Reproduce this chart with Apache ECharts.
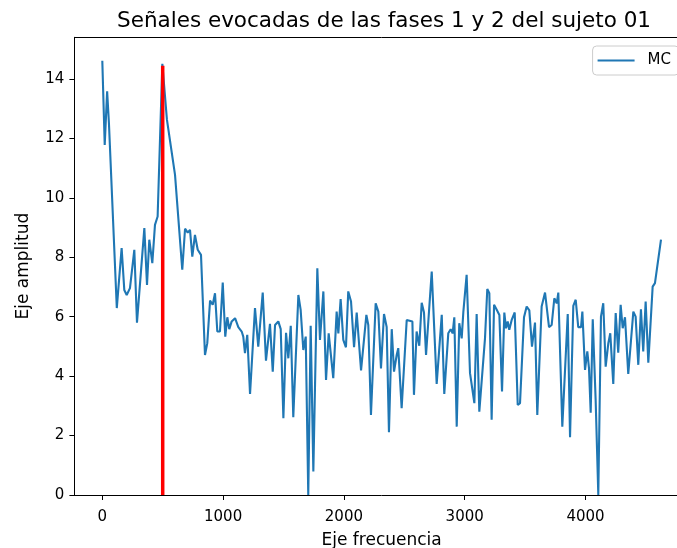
<!DOCTYPE html>
<html><head><meta charset="utf-8">
<script src="https://cdn.jsdelivr.net/npm/echarts@6/dist/echarts.min.js"></script>
<style>html,body{margin:0;padding:0;overflow:hidden;background:#fff;width:677px;height:548px}#c{width:763px;height:548px}</style>
</head><body><div id="c"></div>
<script>
const titleText = 'Señales evocadas de las fases 1 y 2 del sujeto 01';
const xName = 'Eje frecuencia';
const yName = 'Eje amplitud';
const seriesName = 'MC';
const xTicks = [0, 1000, 2000, 3000, 4000];
const yTicks = [0, 2, 4, 6, 8, 10, 12, 14];
const markerX = 500;
const markerTop = 14.44;
const freqs = [0,20,40,55,120,160,182,202,229,265,287,348,370,389,414,436,458,497,535,602,662,685,707,726,745,767,790,817,850,869,892,914,933,
952,974,997,1018,1035,1051,1071,1099,1126,1154,1167,1181,1200,1223,1264,1291,1328,1355,1388,1411,1430,1457,1477,1499,1521,1540,1560,1581,1623,1642,1664,1684,1705,1725,1747,1780,1802,1830,1852,1874,
1912,1940,1954,1973,1995,2017,2036,2059,2084,2106,2142,2186,2202,2224,2263,2285,2307,2332,2354,2373,2396,2415,2437,2450,2478,2520,2567,2580,2602,2624,2644,2663,2680,2727,2768,2810,2831,
2864,2884,2900,2914,2934,2955,2975,2989,3016,3044,3080,3099,3121,3168,3187,3204,3223,3243,3265,3287,3309,3328,3342,3356,3369,3389,3414,3439,3458,3491,3513,3535,3557,3582,3601,3637,3665,3698,3720,3742,3762,3775,
3808,3853,3872,3899,3919,3940,3963,3974,3996,4015,4029,4043,4060,4084,4106,4128,4147,4167,4189,4205,4230,4250,4271,4291,4308,4327,4354,4396,4415,4437,4459,4478,4498,4520,4556,4575,4625];
const amps = [14.61,11.78,13.58,12.5,6.29,8.31,6.9,6.73,6.96,8.25,5.8,8.98,7.07,8.59,7.8,9.09,9.37,14.51,12.63,10.77,7.58,8.96,8.83,8.92,8.02,8.75,8.25,8.08,4.71,5.11,6.54,6.4,6.79,
5.5,5.5,7.15,5.33,5.98,5.58,5.84,5.95,5.65,5.5,5.33,4.77,5.39,3.4,6.29,4.99,6.81,4.52,5.76,4.15,5.72,5.84,5.58,2.58,5.46,4.6,5.69,2.62,6.73,6.23,4.88,5.33,0,5.69,0.79,7.63,5.22,6.85,3.87,5.44,
3.93,6.17,5.44,6.59,5.22,4.97,6.85,6.51,4.97,6.14,4.19,6.06,5.72,2.69,6.45,6.17,4.26,6.09,5.65,2.11,5.58,4.15,4.71,4.94,2.92,5.89,5.84,3.37,5.5,5.02,6.47,6.14,4.71,7.52,3.74,6.06,3.4,
5.44,5.58,5.44,5.98,2.3,5.78,5.27,6.17,7.41,4.1,3.09,6.09,2.8,5.27,6.93,6.79,2.53,6.4,6.23,6.06,3.48,6.14,5.61,5.84,5.56,5.89,6.14,3.03,3.09,5.98,6.34,6.21,4.99,5.8,2.69,6.34,6.81,5.65,5.72,6.62,6.45,6.81,
2.3,6.09,1.94,6.36,6.57,5.65,5.65,6.17,4.21,4.83,4.26,2.77,5.91,3.2,0,6.0,6.45,4.32,5.11,5.44,3.74,6.12,4.79,6.4,5.61,5.98,4.07,6.17,6.0,4.38,6.25,4.83,6.51,4.45,7.01,7.13,8.59];

const FONT = 'DejaVu Sans';
const chart = echarts.init(document.getElementById('c'), null, {renderer: 'canvas'});
const axisCommon = {
  axisLine: {show: true, onZero: false, lineStyle: {color: '#000', width: 1}},
  splitLine: {show: false}
};
chart.setOption({
  animation: false,
  backgroundColor: '#fff',
  title: {text: titleText, left: 112, top: 5,
    textStyle: {fontFamily: FONT, fontSize: 21.5, fontWeight: 'normal', color: '#000'}},
  legend: {data: [seriesName], right: 84, top: 46, icon: 'rect', itemWidth: 37, itemHeight: 2,
    padding: [7, 8, 7, 5], borderColor: '#cccccc', borderWidth: 1, borderRadius: 4,
    backgroundColor: 'rgba(255,255,255,0.8)',
    textStyle: {fontFamily: FONT, fontSize: 15, color: '#000', padding: [0, 0, 0, 8]}},
  grid: {left: 74.4, right: 74.1, top: 37.3, bottom: 53, containLabel: false, outerBoundsMode: 'none'},
  xAxis: [{
    type: 'value', min: -231, max: 4856, position: 'bottom',
    name: xName, nameLocation: 'middle', nameGap: 37,
    nameTextStyle: {fontFamily: FONT, fontSize: 17, color: '#000'},
    axisTick: {show: true, inside: false, length: 5, customValues: xTicks, lineStyle: {color: '#000'}},
    axisLabel: {customValues: xTicks, margin: 15, fontFamily: FONT, fontSize: 15, color: '#000',
      formatter: v => String(v)},
    ...axisCommon
  }, {
    type: 'value', min: -231, max: 4856, position: 'top',
    axisTick: {show: false}, axisLabel: {show: false}, ...axisCommon
  }],
  yAxis: [{
    type: 'value', min: 0, max: 15.4,
    name: yName, nameLocation: 'middle', nameGap: 42,
    nameTextStyle: {fontFamily: FONT, fontSize: 17, color: '#000'},
    axisTick: {show: true, inside: false, length: 5, customValues: yTicks, lineStyle: {color: '#000'}},
    axisLabel: {customValues: yTicks, margin: 10, fontFamily: FONT, fontSize: 15, color: '#000'},
    ...axisCommon
  }, {
    type: 'value', min: 0, max: 15.4, position: 'right',
    axisTick: {show: false}, axisLabel: {show: false}, ...axisCommon
  }],
  series: [{
    name: seriesName, type: 'line', symbol: 'none', clip: true,
    data: freqs.map((f, i) => [f, amps[i]]),
    lineStyle: {color: '#1f77b4', width: 2.1}, itemStyle: {color: '#1f77b4'}, z: 2
  }, {
    name: 'marker', type: 'line', symbol: 'none', clip: true,
    data: [[markerX, 0], [markerX, markerTop]],
    lineStyle: {color: '#ff0000', width: 3.5}, itemStyle: {color: '#ff0000'}, z: 3
  }]
});
</script></body></html>
